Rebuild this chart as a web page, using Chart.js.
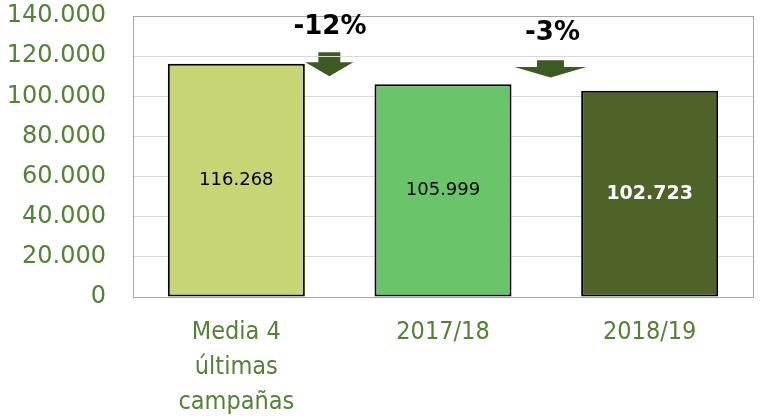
<!DOCTYPE html>
<html>
<head>
<meta charset="utf-8">
<script src="https://cdn.jsdelivr.net/npm/chart.js@4/dist/chart.umd.min.js"></script>
<style>
  html, body { margin: 0; padding: 0; background: #fff; }
  #wrap { width: 760px; height: 418px; position: relative; }
</style>
</head>
<body>
<div id="wrap"><canvas id="chart"></canvas></div>
<script>
// data
const categories = [['Media 4', 'últimas', 'campañas'], '2017/18', '2018/19'];
const values = [116268, 105999, 102723];
const barColors = ['#C9D574', '#6AC56A', '#4F6228'];
const changeLabels = ['-12%', '-3%'];

const green = '#548235';
const fmt = v => String(Math.round(v)).replace(/\B(?=(\d{3})+(?!\d))/g, '.');

// drop arrows between bars (x in category units, y in data units)
const arrows = [
  { x: 0.45, tipY: 110000, headY: 117000, topY: 122000, head: 24, shaft: 11, textX: 0.453, textY: 134500 },
  { x: 1.52, tipY: 109300, headY: 114600, topY: 118000, head: 36, shaft: 13.5, textX: 1.53, textY: 131500 }
];

const arrowPlugin = {
  id: 'arrows',
  beforeDraw(chart) {
    const { ctx, scales: { x, y } } = chart;
    ctx.save();
    ctx.fillStyle = '#3D5A22';
    arrows.forEach(a => {
      const cx = x.getPixelForValue(a.x);
      const tip = y.getPixelForValue(a.tipY);
      const hy = y.getPixelForValue(a.headY);
      const ty = y.getPixelForValue(a.topY);
      ctx.beginPath();
      ctx.moveTo(cx - a.shaft, ty);
      ctx.lineTo(cx + a.shaft, ty);
      ctx.lineTo(cx + a.shaft, hy);
      ctx.lineTo(cx + a.head, hy);
      ctx.lineTo(cx, tip);
      ctx.lineTo(cx - a.head, hy);
      ctx.lineTo(cx - a.shaft, hy);
      ctx.closePath();
      ctx.fill();
    });
    ctx.restore();
  },
  afterDraw(chart) {
    const { ctx, scales: { x, y } } = chart;
    ctx.save();
    ctx.fillStyle = '#000';
    ctx.font = 'bold 26px "DejaVu Sans"';
    ctx.textAlign = 'center';
    ctx.textBaseline = 'middle';
    arrows.forEach((a, i) => {
      ctx.fillText(changeLabels[i], x.getPixelForValue(a.textX), y.getPixelForValue(a.textY));
    });
    ctx.restore();
  }
};

const framePlugin = {
  id: 'frame',
  beforeDatasetsDraw(chart) {
    const { ctx, chartArea: c } = chart;
    ctx.save();
    ctx.strokeStyle = '#A6A6A6';
    ctx.lineWidth = 1;
    ctx.strokeRect(Math.round(c.left) + 0.5, Math.round(c.top) + 0.5, Math.round(c.right - c.left), Math.round(c.bottom - c.top));
    ctx.restore();
  }
};

const valueLabels = {
  id: 'valueLabels',
  afterDatasetsDraw(chart) {
    const { ctx } = chart;
    const meta = chart.getDatasetMeta(0);
    ctx.save();
    ctx.textAlign = 'center';
    ctx.textBaseline = 'middle';
    meta.data.forEach((bar, i) => {
      const last = i === values.length - 1;
      ctx.fillStyle = last ? '#fff' : '#000';
      ctx.font = last ? 'bold 19px "DejaVu Sans"' : '18px "DejaVu Sans"';
      ctx.fillText(fmt(values[i]), bar.x, (bar.y + bar.base) / 2);
    });
    ctx.restore();
  }
};

new Chart(document.getElementById('chart').getContext('2d'), {
  type: 'bar',
  data: {
    labels: categories,
    datasets: [{
      data: values,
      backgroundColor: barColors,
      borderColor: '#000',
      borderWidth: 2,
      borderSkipped: false,
      barPercentage: 0.663,
      categoryPercentage: 1
    }]
  },
  options: {
    responsive: true,
    maintainAspectRatio: false,
    animation: false,
    layout: { padding: { left: 0, right: 7, top: 16, bottom: 0 } },
    plugins: { legend: { display: false }, tooltip: { enabled: false } },
    scales: {
      x: {
        grid: { display: false, drawTicks: false },
        border: { display: false },
        ticks: {
          color: green,
          padding: 18,
          maxRotation: 0,
          font: { family: '"DejaVu Sans Condensed", "DejaVu Sans"', size: 25, lineHeight: 1.4 }
        },
        afterFit: s => { s.height = 121; s.paddingLeft = 0; s.paddingRight = 0; }
      },
      y: {
        min: 0,
        max: 140000,
        grid: { color: '#D9D9D9', drawTicks: false },
        border: { display: false },
        ticks: {
          stepSize: 20000,
          color: green,
          padding: 27,
          font: { family: '"DejaVu Sans"', size: 24 },
          callback: v => fmt(v)
        },
        afterFit: s => { s.width = 133; s.paddingTop = 0; s.paddingBottom = 0; }
      }
    }
  },
  plugins: [arrowPlugin, framePlugin, valueLabels]
});
</script>
</body>
</html>
